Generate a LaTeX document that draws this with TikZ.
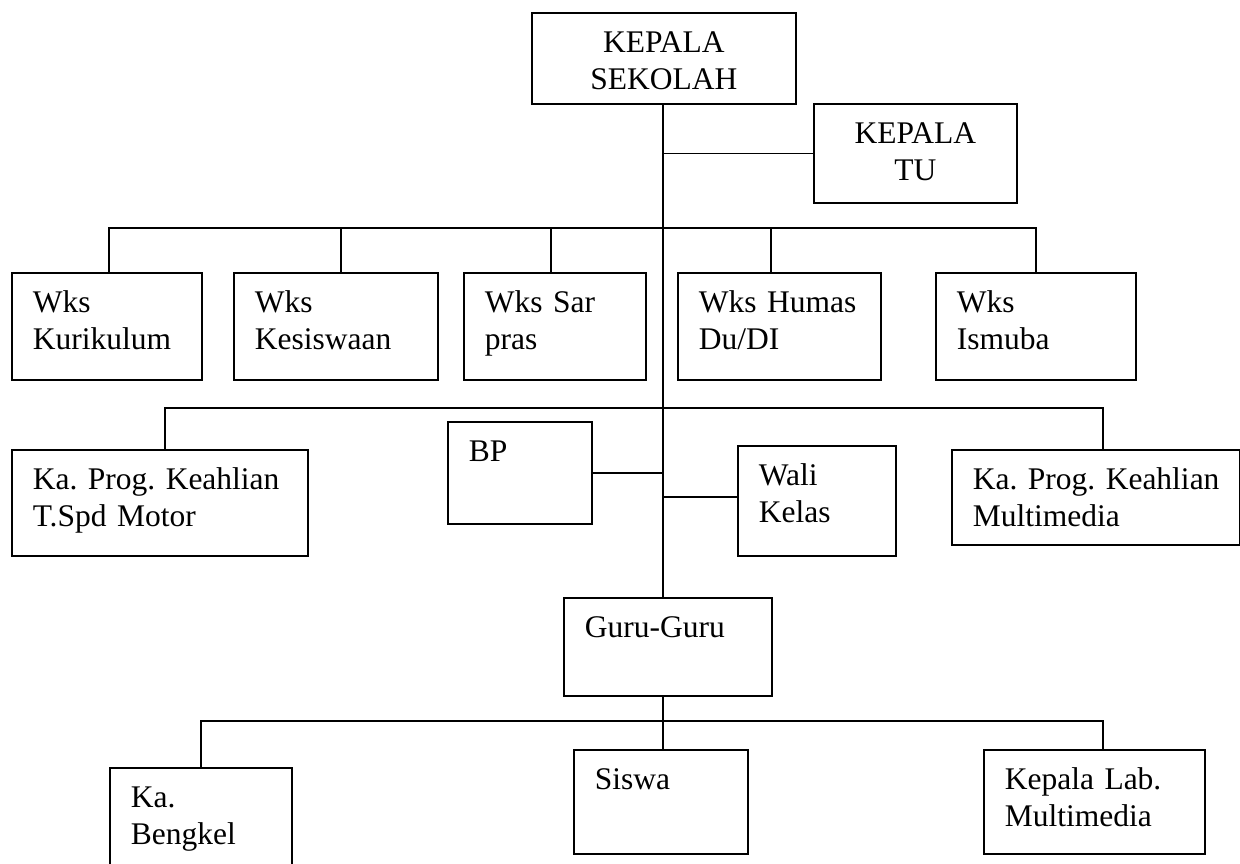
\documentclass[tikz,border=0pt]{standalone}
\usepackage{fontspec}
\setmainfont{Liberation Serif}
\usepackage{tikz}

\begin{document}
\begin{tikzpicture}[x=1pt, y=-1pt, line width=1.6pt,
    font=\fontsize{31.5}{37}\selectfont,
    unit/.style={draw, anchor=north west, inner xsep=21pt, inner ysep=0pt,
        align=left, text height=40pt},
    head/.style={unit, align=center}]
    \useasboundingbox (0,0) rectangle (1240,863);

    % Kepala Sekolah and Kepala TU
    \node[head, text width=222pt, text depth=51pt] (kepsek) at (531,12) {KEPALA\\SEKOLAH};
    \node[head, text width=161pt, text depth=59pt] (tu) at (813,103) {KEPALA\\TU};

    % Spine and branch points
    \coordinate (spine) at (663,0);
    \coordinate (hubA) at (663,228);
    \coordinate (hubB) at (663,408);
    \coordinate (hubC) at (663,721);

    % Wakil kepala sekolah
    \node[unit, text width=148pt, text depth=67pt] (kur) at (11,272) {Wks\\Kurikulum};
    \node[unit, text width=162pt, text depth=67pt] (kes) at (233,272) {Wks\\Kesiswaan};
    \node[unit, text width=140pt, text depth=67pt] (sar) at (463,272) {Wks~Sar\\pras};
    \node[unit, text width=161pt, text depth=67pt] (hum) at (677,272) {Wks~Humas\\Du/DI};
    \node[unit, text width=158pt, text depth=67pt] (ism) at (935,272) {Wks\\Ismuba};

    % Program keahlian, BP, wali kelas
    \node[unit, text width=254pt, text depth=66pt] (tspd) at (11,449) {Ka.~Prog.~Keahlian\\T.Spd~Motor};
    \node[unit, text width=102pt, text depth=62pt] (bp) at (447,421) {BP};
    \node[unit, text width=116pt, text depth=70pt] (wali) at (737,445) {Wali\\Kelas};
    \node[unit, text width=246pt, text depth=55pt] (mm) at (951,449) {Ka.~Prog.~Keahlian\\Multimedia};

    % Guru
    \node[unit, text width=166pt, text depth=58pt] (guru) at (563,597) {Guru-Guru};

    % Bottom row
    \node[unit, text width=140pt, text depth=70pt] (bengkel) at (109,767) {Ka.\\Bengkel};
    \node[unit, text width=132pt, text depth=64pt] (siswa) at (573,749) {Siswa};
    \node[unit, text width=179pt, text depth=64pt] (lab) at (983,749) {Kepala~Lab.\\Multimedia};

    % Lines
    \draw (kepsek.south -| spine) -- (guru.north -| spine);
    \draw (tu.west) -- (tu.west -| spine);
    \foreach \n/\x in {kur/109, kes/341, sar/551, hum/771, ism/1036}
        \draw (\n.north -| \x,0) |- (hubA);
    \foreach \n/\x in {tspd/165, mm/1103}
        \draw (\n.north -| \x,0) |- (hubB);
    \draw (bp.east) -- (bp.east -| spine);
    \draw ([yshift=4pt]wali.west) -- ([yshift=4pt]wali.west -| spine);
    \draw (guru.south -| spine) -- (siswa.north -| spine);
    \foreach \n/\x in {bengkel/201, lab/1103}
        \draw (\n.north -| \x,0) |- (hubC);

\end{tikzpicture}
\end{document}
